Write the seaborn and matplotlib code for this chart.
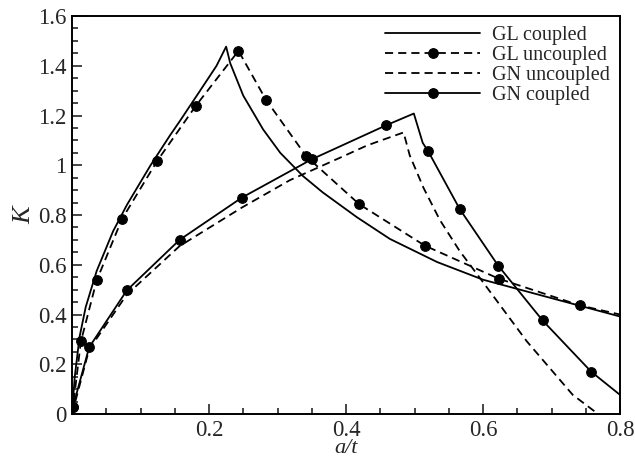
import numpy as np
import pandas as pd
import matplotlib
matplotlib.use("Agg")
import matplotlib.pyplot as plt
from matplotlib.ticker import MultipleLocator, FuncFormatter
import seaborn as sns

# GL coupled (solid)
gl_c_x = [0.0, 0.004, 0.011, 0.020, 0.036, 0.060, 0.080, 0.114, 0.143, 0.158, 0.187, 0.211, 0.225,
          0.231, 0.250, 0.279, 0.304, 0.337, 0.366, 0.416, 0.464, 0.533, 0.600, 0.693, 0.800]
gl_c_k = [0.0, 0.15, 0.31, 0.43, 0.575, 0.735, 0.84, 0.997, 1.12, 1.18, 1.30, 1.40, 1.477,
          1.41, 1.28, 1.144, 1.05, 0.957, 0.891, 0.791, 0.704, 0.611, 0.54, 0.471, 0.392]

# GL uncoupled (dashed + dots)
gl_u_x = [0.0, 0.0015, 0.013, 0.036, 0.073, 0.124, 0.181, 0.243, 0.283, 0.342, 0.419, 0.515, 0.623, 0.741, 0.800]
gl_u_k = [0.0, 0.03, 0.292, 0.537, 0.784, 1.016, 1.24, 1.46, 1.264, 1.036, 0.844, 0.677, 0.544, 0.437, 0.40]
gl_u_marks = [1, 2, 3, 4, 5, 6, 7, 8, 9, 10, 11, 12, 13]

# GN uncoupled (dashed)
gn_u_x = [0.0, 0.025, 0.080, 0.157, 0.248, 0.318, 0.391, 0.431, 0.484,
          0.493, 0.513, 0.537, 0.566, 0.600, 0.664, 0.731, 0.768]
gn_u_k = [0.0, 0.26, 0.48, 0.675, 0.83, 0.94, 1.03, 1.08, 1.132,
          1.04, 0.91, 0.78, 0.655, 0.53, 0.292, 0.077, 0.0]

# GN coupled (solid + dots)
gn_c_x = [0.0, 0.0015, 0.025, 0.080, 0.157, 0.248, 0.350, 0.458, 0.499,
          0.512, 0.520, 0.566, 0.622, 0.687, 0.758, 0.800]
gn_c_k = [0.0, 0.03, 0.268, 0.497, 0.70, 0.87, 1.024, 1.16, 1.208,
          1.09, 1.056, 0.824, 0.597, 0.376, 0.17, 0.077]
gn_c_marks = [1, 2, 3, 4, 5, 6, 7, 10, 11, 12, 13, 14]

sns.set_style("ticks")
plt.rcParams['font.family'] = ['Liberation Serif', 'DejaVu Serif']

fig = plt.figure(figsize=(6.35, 4.59), dpi=100)
ax = fig.add_axes([0.1134, 0.0980, 0.863, 0.8671])

lw = 1.3
dash = (0, (4.5, 2.8))
sns.lineplot(x=gl_c_x, y=gl_c_k, ax=ax, color='k', lw=lw, sort=False, estimator=None,
             label='GL coupled')
sns.lineplot(x=gl_u_x, y=gl_u_k, ax=ax, color='k', lw=lw, linestyle=dash, sort=False, estimator=None,
             marker='o', markersize=7, markevery=gl_u_marks, markeredgecolor='k', label='GL uncoupled')
sns.lineplot(x=gn_u_x, y=gn_u_k, ax=ax, color='k', lw=lw, linestyle=dash, sort=False, estimator=None,
             label='GN uncoupled')
sns.lineplot(x=gn_c_x, y=gn_c_k, ax=ax, color='k', lw=lw, sort=False, estimator=None,
             marker='o', markersize=7, markevery=gn_c_marks, markeredgecolor='k', label='GN coupled')

ax.set_xlim(0, 0.8)
ax.set_ylim(0, 1.6)
ax.set_xticks([0.2, 0.4, 0.6, 0.8])
ax.xaxis.set_minor_locator(MultipleLocator(0.05))
ax.yaxis.set_major_locator(MultipleLocator(0.2))
ax.yaxis.set_minor_locator(MultipleLocator(0.05))
ax.yaxis.set_major_formatter(FuncFormatter(lambda v, p: '%g' % round(v, 2)))
ax.xaxis.set_major_formatter(FuncFormatter(lambda v, p: '%g' % round(v, 2)))
ax.tick_params(which='both', direction='in', width=1.2, labelsize=16.5, top=False, right=False)
ax.tick_params(which='major', length=7, pad=4)
ax.tick_params(which='minor', length=4)
for s in ax.spines.values():
    s.set_linewidth(1.4)
    s.set_color('k')
    s.set_visible(True)

ax.set_xlabel('a/t', fontstyle='italic', fontsize=16, labelpad=-1)
ax.set_ylabel('K', fontstyle='italic', fontsize=19, labelpad=2)

leg = ax.legend(loc='upper right', frameon=False, fontsize=14.5, handlelength=4.7,
                handletextpad=0.6, labelspacing=0.05, borderaxespad=0.1, numpoints=1)

fig.savefig('out.png', dpi=100)
